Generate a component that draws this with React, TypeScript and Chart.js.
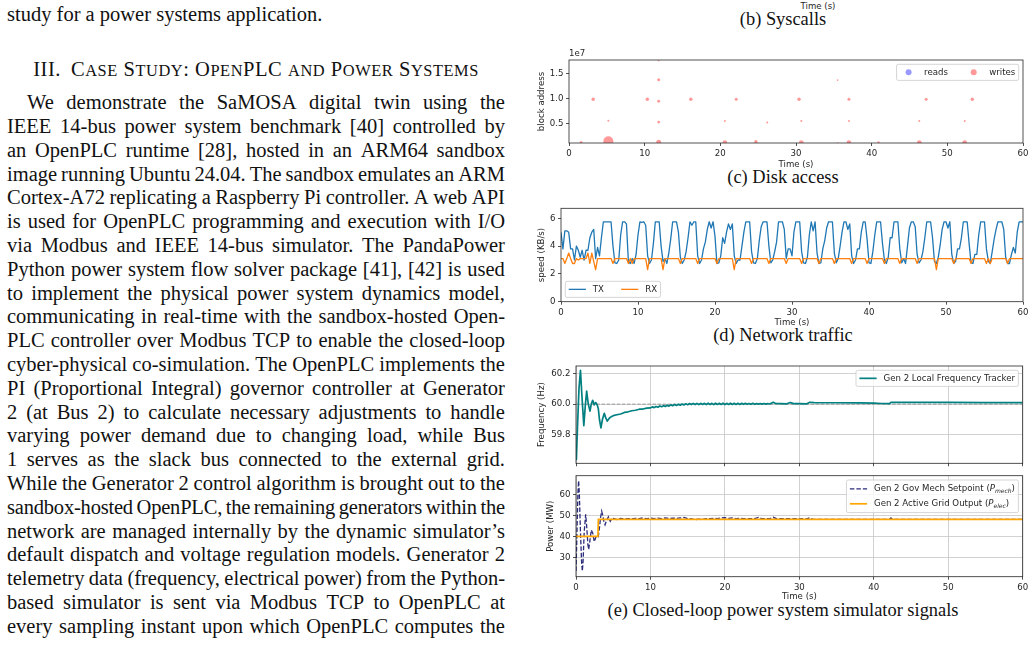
import React, { useEffect, useLayoutEffect, useRef } from "react";
import { Chart, registerables } from "chart.js";

Chart.register(...registerables);

// ---------------------------------------------------------------- data

const timeTicks = [0, 10, 20, 30, 40, 50, 60];
const timeRange = [0, 60];

// (c) disk access: block address of each request, request size in KiB
const blockTicks = [0.5e7, 1.0e7, 1.5e7];
const blockRange = [0.12e7, 1.77e7];
const readTimes: number[] = [];
const readBlocks: number[] = [];
const readKiB: number[] = [];
const writeTimes = [
  3.2, 10.35, 11.85, 16.1, 22.1, 30.4, 37.0, 47.2, 53.3,
  5.2, 11.85, 20.6, 26.2, 30.7, 37.0, 46.3, 52.3,
  11.85, 35.5, 11.85,
  1.6, 5.2, 11.85, 20.6, 24.7, 30.7, 35.5, 37.0, 40.9, 46.3, 52.3,
];
const writeBlocks = [
  0.99e7, 0.99e7, 0.95e7, 0.99e7, 0.99e7, 0.99e7, 0.99e7, 0.99e7, 0.99e7,
  0.56e7, 0.535e7, 0.555e7, 0.53e7, 0.555e7, 0.555e7, 0.555e7, 0.555e7,
  1.375e7, 1.37e7, 1.76e7,
  0.13e7, 0.155e7, 0.135e7, 0.13e7, 0.145e7, 0.13e7, 0.12e7, 0.13e7, 0.13e7, 0.13e7, 0.13e7,
];
const writeKiB = [
  12, 12, 8, 12, 9, 12, 9, 9, 12,
  4, 8, 4, 4, 4, 4, 4, 4,
  9, 3, 3,
  9, 100, 25, 22, 12, 22, 3, 22, 6, 22, 22,
];

// (d) network traffic, one sample every netSamplePeriod seconds
const netSamplePeriod = 0.25;
const speedTicks = [0, 2, 4, 6];
const speedRange = [0, 6.72];
const txKBps = [
  5.0, 3.8, 5.1, 5.1, 5.0, 3.8, 3.8, 3.0, 4.0, 3.7, 3.2, 3.7, 3.0, 3.7, 3.7, 4.6, 5.0, 5.2, 3.1, 3.9,
  3.3, 4.6, 5.75, 5.75, 5.75, 5.75, 5.75, 4.0, 2.8, 2.75, 3.0, 4.8, 5.75, 5.75, 5.6, 2.9, 2.75, 3.1, 2.75, 3.4,
  4.8, 5.75, 5.7, 5.75, 5.5, 3.3, 2.75, 3.0, 4.2, 5.75, 5.75, 5.75, 4.0, 2.9, 3.1, 2.75, 3.5, 4.5, 5.75, 5.75,
  5.75, 5.0, 3.2, 2.75, 3.0, 3.6, 4.6, 5.75, 5.5, 5.75, 5.75, 3.3, 2.75, 3.0, 3.8, 4.3, 5.2, 5.75, 5.3, 5.75,
  4.7, 2.75, 2.8, 3.3, 4.6, 4.2, 5.0, 5.6, 5.2, 5.6, 3.3, 2.75, 3.0, 3.0, 4.0, 5.0, 5.75, 5.75, 5.75, 3.6,
  2.8, 2.75, 3.1, 4.4, 5.4, 5.75, 5.75, 5.75, 4.0, 2.8, 3.0, 3.6, 4.3, 5.75, 5.75, 5.75, 5.2, 3.1, 3.8, 3.8,
  3.3, 5.0, 5.75, 5.75, 5.75, 3.6, 2.8, 2.75, 3.2, 4.8, 5.75, 5.1, 5.75, 3.5, 2.75, 2.8, 3.8, 4.4, 5.3, 5.75,
  5.75, 5.75, 3.5, 2.8, 3.1, 4.0, 5.0, 5.75, 5.75, 5.2, 5.6, 3.3, 2.75, 3.0, 3.8, 3.8, 5.0, 5.75, 5.75, 4.5,
  2.8, 2.75, 3.6, 4.8, 5.75, 5.75, 5.75, 4.2, 3.0, 2.75, 3.2, 4.6, 4.6, 5.75, 5.75, 5.75, 3.8, 2.8, 3.1, 2.75,
  4.0, 5.3, 5.75, 5.75, 5.4, 3.4, 2.8, 3.0, 3.6, 4.6, 5.75, 5.75, 5.75, 4.6, 2.9, 2.75, 3.2, 4.1, 5.2, 5.75,
  5.75, 5.3, 5.75, 3.4, 2.75, 2.9, 3.8, 3.8, 4.6, 5.75, 5.75, 5.75, 4.2, 2.8, 2.75, 3.4, 3.4, 4.8, 5.75, 5.75,
  5.75, 3.8, 2.9, 2.75, 3.6, 4.5, 5.2, 5.75, 5.75, 5.75, 5.2, 3.2, 2.75, 2.75, 3.4, 3.9, 3.5, 5.0, 5.75, 5.75,
  5.75,
];
const rxKBps = [
  3.1, 3.1, 2.75, 3.1, 3.5, 3.1, 2.75, 2.75, 3.1, 3.0, 3.1, 3.1, 3.1, 3.1, 3.5, 2.75, 3.5, 2.9, 2.3, 3.1,
  3.1, 3.1, 3.1, 3.1, 3.1, 3.1, 3.1, 2.75, 3.1, 3.1, 3.1, 3.1, 3.1, 3.1, 3.1, 2.75, 3.1, 2.75, 3.1, 3.1,
  3.1, 3.1, 3.1, 3.1, 3.1, 2.3, 3.1, 3.1, 3.1, 3.1, 3.1, 3.1, 3.1, 2.3, 3.1, 3.1, 3.1, 3.1, 3.1, 3.1,
  3.1, 3.1, 2.75, 3.1, 3.1, 3.1, 3.1, 3.1, 3.1, 3.1, 3.1, 2.75, 3.1, 3.1, 3.1, 3.1, 3.1, 3.1, 3.1, 3.1,
  3.1, 2.75, 3.1, 3.1, 3.1, 3.1, 3.1, 3.1, 3.1, 3.1, 2.3, 3.1, 3.1, 3.1, 3.1, 3.1, 3.1, 3.1, 3.1, 2.75,
  3.1, 3.1, 3.1, 3.1, 3.1, 3.1, 3.1, 3.1, 2.75, 3.1, 3.1, 3.1, 3.1, 3.1, 3.1, 3.1, 3.1, 2.75, 3.1, 3.1,
  3.1, 3.1, 3.1, 3.1, 3.1, 2.75, 3.1, 3.1, 3.1, 3.1, 3.1, 3.1, 3.1, 3.1, 2.75, 3.1, 3.1, 3.1, 3.1, 3.1,
  3.1, 3.1, 2.75, 3.1, 3.1, 3.1, 3.1, 3.1, 3.1, 3.1, 3.1, 2.75, 3.1, 3.1, 3.1, 3.1, 3.1, 3.1, 3.1, 2.75,
  3.1, 3.1, 3.1, 3.1, 3.1, 3.1, 3.1, 3.1, 2.75, 3.1, 3.1, 3.1, 3.1, 3.1, 3.1, 3.1, 2.75, 3.1, 3.1, 3.1,
  3.1, 3.1, 3.1, 3.1, 3.1, 2.75, 3.1, 3.1, 3.1, 3.1, 3.1, 3.1, 3.1, 3.1, 3.1, 2.3, 3.1, 3.1, 3.1, 3.1,
  3.1, 3.1, 3.1, 3.1, 2.75, 3.1, 3.1, 3.1, 3.1, 3.1, 3.1, 3.1, 3.1, 2.75, 3.1, 3.1, 3.1, 3.1, 3.1, 3.1,
  3.1, 2.75, 3.1, 2.75, 3.1, 3.1, 3.1, 3.1, 3.1, 3.1, 3.1, 3.1, 2.75, 3.1, 3.1, 3.1, 3.1, 3.1, 3.1, 3.1,
  3.1,
];

// (e) generator 2 local frequency
const freqTicks = [59.8, 60.0, 60.2];
const freqRange = [59.615, 60.248];
const nominalHz = 60.0;
const freqTimes = [
  0.0, 0.05, 0.2, 0.4, 0.6, 0.8, 1.05, 1.25, 1.43, 1.65, 1.88, 2.05, 2.24, 2.45, 2.65, 2.85,
  3.0, 3.15, 3.35, 3.55, 3.8, 4.0, 4.2, 4.5, 4.8,
  5.0, 5.5, 6.0, 6.5, 7.0, 7.5, 8.0, 8.5, 9.0, 9.5,
  10.0, 10.25, 10.5, 10.75, 11.0, 11.25, 11.5, 11.75, 12.0, 12.25, 12.5, 12.75,
  13.0, 13.25, 13.5, 13.75, 14.0, 14.25, 14.5, 14.75, 15.0, 15.25, 15.5, 15.75,
  16.0, 16.25, 16.5, 16.75, 17.0, 17.25, 17.5, 17.75, 18.0, 18.25, 18.5, 18.75,
  19.0, 19.25, 19.5, 19.75, 20.0, 20.25, 20.5, 20.75, 21.0, 21.25, 21.5, 21.75,
  22.0, 22.25, 22.5, 22.75, 23.0, 23.25, 23.5, 23.75, 24.0, 24.25, 24.5, 24.75,
  25.0, 25.25, 25.5, 25.75, 26.0,
  26.5, 26.8, 27.5, 28.3, 28.8, 29.2, 30.0, 31.0, 31.4, 32.0, 35.0, 38.0, 40.0, 41.0,
  42.1, 42.3, 45.0, 50.0, 55.0, 60.0,
];
const freqHz = [
  59.66, 59.64, 59.85, 60.1, 60.22, 60.05, 59.86, 59.99, 60.085, 60.0, 59.955, 60.0, 60.025, 59.995, 60.01, 59.995,
  59.97, 59.9, 59.845, 59.9, 59.94, 59.91, 59.89, 59.91, 59.92,
  59.925, 59.931, 59.936, 59.946, 59.95, 59.957, 59.96, 59.967, 59.968, 59.974,
  59.975, 59.982, 59.977, 59.985, 59.98, 59.988, 59.983, 59.99, 59.985, 59.993, 59.987, 59.995,
  59.99, 59.997, 59.991, 59.999, 59.993, 60.001, 59.995, 60.002, 59.996, 60.004, 59.997, 60.005,
  59.997, 60.005, 59.997, 60.005, 59.998, 60.005, 59.997, 60.006, 59.998, 60.005, 59.997, 60.006,
  59.998, 60.005, 59.998, 60.006, 59.997, 60.005, 59.998, 60.006, 59.998, 60.005, 59.998, 60.005,
  59.998, 60.005, 59.999, 60.005, 59.999, 60.004, 59.999, 60.005, 59.999, 60.004, 60.0, 60.004,
  60.0, 60.004, 60.0, 60.004, 60.001,
  60.012, 60.004, 60.003, 60.002, 60.011, 60.003, 60.003, 60.002, 60.012, 60.01, 60.009, 60.008, 60.006, 60.004,
  60.003, 60.012, 60.011, 60.011, 60.01, 60.01,
];

// (e) generator 2 governor setpoint and electrical output
const powerTicks = [30, 40, 50, 60];
const powerRange = [20.8, 68.9];
const mechTimes = [
  0, 0.12, 0.25, 0.35, 0.45, 0.6, 0.75, 0.85, 0.95, 1.1,
  1.3, 1.45, 1.6, 1.7, 1.85, 2.05, 2.25, 2.45, 2.65, 2.85,
  3.0, 3.15, 3.3, 3.45, 3.6, 3.75, 3.9, 4.1, 4.35, 4.6,
  4.85, 5.0,
  5.5, 6.0, 6.5, 7.0, 7.5, 8.0, 8.5, 9.0, 9.5, 10.0,
  10.5, 11.0, 11.5, 12.0, 12.5, 13.0, 13.5, 14.0, 14.5, 15.0,
  15.5, 16.0, 16.5, 17.0, 17.5, 18.0, 18.5, 19.0, 19.5, 20.0,
  20.5, 21.0, 21.5, 22.0, 22.5, 23.0, 23.5, 24.0, 24.5, 25.0,
  25.5, 26.0, 26.5, 27.0, 27.5, 28.0, 28.5, 29.0, 29.5, 30.0,
  30.5, 31.0,
  31.4, 31.8, 35.0, 40.0, 42.1, 42.3, 42.5, 50.0, 60.0,
];
const mechMW = [
  23.5, 40, 60, 66.5, 60, 42, 28, 23.5, 28, 42,
  50.5, 44, 36, 33.8, 37.5, 43, 41.5, 37.5, 39.5, 40.5,
  40, 44, 49, 52, 50, 47, 45.5, 47.5, 49.3, 47.2,
  48.8, 48.6,
  48.0, 48.6, 48.2, 48.5, 48.3, 48.6, 48.4, 48.8, 48.4, 48.7,
  48.5, 48.7, 48.5, 48.8, 48.5, 48.7, 48.6, 48.8, 49.0, 48.5,
  48.3, 48.0, 48.2, 48.1, 48.5, 48.4, 48.6, 48.5, 48.8, 48.9,
  48.6, 48.8, 48.5, 48.6, 48.4, 48.5, 48.4, 48.5, 49.0, 48.4,
  48.5, 48.4, 49.1, 48.4, 48.5, 48.4, 48.5, 48.3, 48.5, 48.3,
  48.4, 48.3,
  48.9, 48.1, 48.1, 48.1, 48.1, 48.8, 48.1, 48.1, 48.1,
];
const elecTimes = [0, 2.95, 3.0, 60];
const elecMW = [40, 40, 48.1, 48.1];

// ---------------------------------------------------------------- page text

const prevParagraphTail = "study for a power systems application.";
const sectionNumber = "III.";
const sectionTitle = "Case Study: OpenPLC and Power Systems";
const paragraphLines = [
  "We demonstrate the SaMOSA digital twin using the",
  "IEEE 14-bus power system benchmark [40] controlled by",
  "an OpenPLC runtime [28], hosted in an ARM64 sandbox",
  "image running Ubuntu 24.04. The sandbox emulates an ARM",
  "Cortex-A72 replicating a Raspberry Pi controller. A web API",
  "is used for OpenPLC programming and execution with I/O",
  "via Modbus and IEEE 14-bus simulator. The PandaPower",
  "Python power system flow solver package [41], [42] is used",
  "to implement the physical power system dynamics model,",
  "communicating in real-time with the sandbox-hosted Open-",
  "PLC controller over Modbus TCP to enable the closed-loop",
  "cyber-physical co-simulation. The OpenPLC implements the",
  "PI (Proportional Integral) governor controller at Generator",
  "2 (at Bus 2) to calculate necessary adjustments to handle",
  "varying power demand due to changing load, while Bus",
  "1 serves as the slack bus connected to the external grid.",
  "While the Generator 2 control algorithm is brought out to the",
  "sandbox-hosted OpenPLC, the remaining generators within the",
  "network are managed internally by the dynamic simulator\u2019s",
  "default dispatch and voltage regulation models. Generator 2",
  "telemetry data (frequency, electrical power) from the Python-",
  "based simulator is sent via Modbus TCP to OpenPLC at",
  "every sampling instant upon which OpenPLC computes the",
];

// ---------------------------------------------------------------- styling helpers

const SANS = "'DejaVu Sans', Verdana, sans-serif";
const SERIF = "'Liberation Serif', 'Times New Roman', Times, serif";
const INK = "#262626";
const GRID = "#c6c6c6";
const FS = 8.6;
const TX_COLOR = "#1f77b4";
const RX_COLOR = "#ff7f0e";
const READ_FILL = "rgba(0, 0, 255, 0.4)";
const WRITE_FILL = "rgba(255, 0, 0, 0.4)";
const TEAL = "#008080";
const NAVY = "rgba(25, 25, 112, 0.92)";
const ORANGE = "#ffa500";

Chart.defaults.font.family = SANS;
Chart.defaults.font.size = FS;

type Frame = { x: number; y: number; w: number; h: number; plot: { l: number; t: number; r: number; b: number } };

const diskFrame: Frame = { x: 537, y: 40, w: 498, h: 130, plot: { l: 569, t: 60, r: 1023, b: 143 } };
const netFrame: Frame = { x: 537, y: 190, w: 498, h: 138, plot: { l: 561, t: 208.3, r: 1023, b: 301.7 } };
const freqFrame: Frame = { x: 537, y: 350, w: 498, h: 123, plot: { l: 576, t: 366, r: 1022.7, b: 463.3 } };
const powerFrame: Frame = { x: 546, y: 466, w: 489, h: 136, plot: { l: 576, t: 475.7, r: 1022.7, b: 576.7 } };

const pts = (xs: number[], ys: number[]) => xs.map((x, i) => ({ x, y: ys[i] }));
const sampleTimes = (n: number, dt: number) => Array.from({ length: n }, (_, i) => i * dt);
const kibToRadius = (kib: number) => 0.5 * Math.sqrt(kib);

type AxisSpec = {
  range: number[];
  ticks: number[];
  fmt: (v: number) => string;
  labels?: boolean;
  title?: string;
  grid?: boolean;
  size: number;
  horizontal: boolean;
};

function axis(s: AxisSpec): any {
  return {
    type: "linear",
    min: s.range[0],
    max: s.range[1],
    bounds: "data",
    afterBuildTicks: (sc: any) => {
      sc.ticks = s.ticks.map((value) => ({ value }));
    },
    afterFit: (sc: any) => {
      if (s.horizontal) sc.height = s.size;
      else sc.width = s.size;
    },
    ticks: {
      display: s.labels !== false,
      autoSkip: false,
      maxRotation: 0,
      minRotation: 0,
      padding: 2.5,
      color: INK,
      font: { family: SANS, size: FS },
      callback: (v: any) => s.fmt(Number(v)),
    },
    grid: {
      display: true,
      drawOnChartArea: !!s.grid,
      color: GRID,
      lineWidth: 0.8,
      drawTicks: true,
      tickLength: 3,
      tickColor: INK,
      tickWidth: 0.8,
    },
    border: { display: false },
    title: s.title
      ? { display: true, text: s.title, color: INK, font: { family: SANS, size: FS, lineHeight: 1.2 }, padding: 0 }
      : { display: false },
  };
}

function baseOptions(f: Frame, scales: any) {
  return {
    responsive: false,
    maintainAspectRatio: false,
    animation: false,
    devicePixelRatio: 1,
    events: [],
    layout: { padding: { left: 0, top: f.plot.t - f.y, right: f.x + f.w - f.plot.r, bottom: 0 } },
    plugins: { legend: { display: false }, tooltip: { enabled: false } },
    scales,
  };
}

// axes box drawn on all four sides
const framePlugin = {
  id: "axesFrame",
  afterDatasetsDraw(chart: any) {
    const { ctx, chartArea: a } = chart;
    ctx.save();
    ctx.strokeStyle = INK;
    ctx.lineWidth = 0.8;
    ctx.strokeRect(a.left, a.top, a.right - a.left, a.bottom - a.top);
    ctx.restore();
  },
};

function offsetLabelPlugin(text: string) {
  return {
    id: "offsetLabel",
    afterDraw(chart: any) {
      const { ctx, chartArea: a } = chart;
      ctx.save();
      ctx.font = `${FS}px ${SANS}`;
      ctx.fillStyle = INK;
      ctx.textAlign = "left";
      ctx.textBaseline = "middle";
      ctx.fillText(text, a.left, a.top - 6.5);
      ctx.restore();
    },
  };
}

type Seg = { text: string; italic?: boolean; sub?: boolean };
type LegendEntry = { handle: "line" | "dot"; color: string; lineWidth?: number; dash?: number[]; radius?: number; label: Seg[] };
type LegendSpec = { entries: LegendEntry[]; columns: number; corner: "upper right" | "lower left"; rowHeight: number };

function roundRectPath(ctx: CanvasRenderingContext2D, x: number, y: number, w: number, h: number, r: number) {
  ctx.beginPath();
  ctx.moveTo(x + r, y);
  ctx.arcTo(x + w, y, x + w, y + h, r);
  ctx.arcTo(x + w, y + h, x, y + h, r);
  ctx.arcTo(x, y + h, x, y, r);
  ctx.arcTo(x, y, x + w, y, r);
  ctx.closePath();
}

// boxed legend laid out like a matplotlib legend
function legendPlugin(spec: LegendSpec) {
  return {
    id: "boxLegend",
    afterDatasetsDraw(chart: any) {
      const ctx: CanvasRenderingContext2D = chart.ctx;
      const area = chart.chartArea;
      const pad = 0.4 * FS;
      const handleLen = 2 * FS;
      const handleGap = 0.8 * FS;
      const colGap = 2 * FS;
      const rowGap = 0.5 * FS;
      const inset = 0.5 * FS;
      const segFont = (s: Seg) => `${s.italic ? "italic " : ""}${s.sub ? FS * 0.7 : FS}px ${SANS}`;
      const labelWidth = (segs: Seg[]) =>
        segs.reduce((w, s) => {
          ctx.font = segFont(s);
          return w + ctx.measureText(s.text).width;
        }, 0);

      const n = spec.entries.length;
      const cols = spec.columns;
      const rows = Math.ceil(n / cols);
      const colOf = (i: number) => Math.floor(i / rows);
      const rowOf = (i: number) => i % rows;
      const colText = new Array(cols).fill(0);
      spec.entries.forEach((e, i) => {
        colText[colOf(i)] = Math.max(colText[colOf(i)], labelWidth(e.label));
      });
      const boxW = 2 * pad + colText.reduce((acc, w) => acc + handleLen + handleGap + w, 0) + (cols - 1) * colGap;
      const boxH = 2 * pad + rows * spec.rowHeight + (rows - 1) * rowGap;
      let x0: number;
      let y0: number;
      if (spec.corner === "upper right") {
        x0 = area.right - inset - boxW;
        y0 = area.top + inset;
      } else {
        x0 = area.left + inset;
        y0 = area.bottom - inset - boxH;
      }

      ctx.save();
      roundRectPath(ctx, x0, y0, boxW, boxH, 0.2 * FS);
      ctx.fillStyle = "rgba(255,255,255,0.8)";
      ctx.fill();
      ctx.strokeStyle = "#cccccc";
      ctx.lineWidth = 0.8;
      ctx.stroke();

      const colX: number[] = [];
      let cx = x0 + pad;
      for (let c = 0; c < cols; c++) {
        colX.push(cx);
        cx += handleLen + handleGap + colText[c] + colGap;
      }

      spec.entries.forEach((e, i) => {
        const hx = colX[colOf(i)];
        const cy = y0 + pad + rowOf(i) * (spec.rowHeight + rowGap) + spec.rowHeight / 2;
        if (e.handle === "line") {
          ctx.beginPath();
          ctx.setLineDash(e.dash || []);
          ctx.strokeStyle = e.color;
          ctx.lineWidth = e.lineWidth || 1.3;
          ctx.moveTo(hx, cy);
          ctx.lineTo(hx + handleLen, cy);
          ctx.stroke();
          ctx.setLineDash([]);
        } else {
          ctx.beginPath();
          ctx.fillStyle = e.color;
          ctx.arc(hx + handleLen / 2, cy, e.radius || 3, 0, Math.PI * 2);
          ctx.fill();
        }
        let tx = hx + handleLen + handleGap;
        ctx.fillStyle = INK;
        ctx.textAlign = "left";
        ctx.textBaseline = "middle";
        e.label.forEach((s) => {
          ctx.font = segFont(s);
          ctx.fillText(s.text, tx, s.sub ? cy + FS * 0.3 : cy);
          tx += ctx.measureText(s.text).width;
        });
      });
      ctx.restore();
    },
  };
}

const sizeOf = (f: Frame) => ({ yW: f.plot.l - f.x, xH: f.y + f.h - f.plot.b });
const fmtFixed = (d: number) => (v: number) => v.toFixed(d);

// ---------------------------------------------------------------- chart builders

function buildDisk() {
  const s = sizeOf(diskFrame);
  return {
    type: "scatter",
    data: {
      datasets: [
        {
          label: "reads",
          data: pts(readTimes, readBlocks),
          backgroundColor: READ_FILL,
          borderWidth: 0,
          pointRadius: (c: any) => kibToRadius(readKiB[c.dataIndex]),
          clip: 0,
        },
        {
          label: "writes",
          data: pts(writeTimes, writeBlocks),
          backgroundColor: WRITE_FILL,
          borderWidth: 0,
          pointRadius: (c: any) => kibToRadius(writeKiB[c.dataIndex]),
          clip: 0,
        },
      ],
    },
    options: baseOptions(diskFrame, {
      x: axis({ range: timeRange, ticks: timeTicks, fmt: fmtFixed(0), title: "Time (s)", size: s.xH, horizontal: true }),
      y: axis({ range: blockRange, ticks: blockTicks, fmt: (v) => (v / 1e7).toFixed(1), title: "block address", size: s.yW, horizontal: false }),
    }),
    plugins: [
      framePlugin,
      offsetLabelPlugin("1e7"),
      legendPlugin({
        columns: 2,
        corner: "upper right",
        rowHeight: 9.2,
        entries: [
          { handle: "dot", color: READ_FILL, radius: 3, label: [{ text: "reads" }] },
          { handle: "dot", color: WRITE_FILL, radius: 3, label: [{ text: "writes" }] },
        ],
      }),
    ],
  };
}

function buildNetwork() {
  const s = sizeOf(netFrame);
  const t = sampleTimes(txKBps.length, netSamplePeriod);
  const line = (label: string, ys: number[], color: string, order: number) => ({
    label,
    data: pts(t, ys),
    borderColor: color,
    borderWidth: 1.3,
    pointRadius: 0,
    tension: 0,
    fill: false,
    borderJoinStyle: "round",
    order,
    clip: 0,
  });
  return {
    type: "line",
    data: { datasets: [line("TX", txKBps, TX_COLOR, 1), line("RX", rxKBps, RX_COLOR, 0)] },
    options: baseOptions(netFrame, {
      x: axis({ range: timeRange, ticks: timeTicks, fmt: fmtFixed(0), title: "Time (s)", size: s.xH, horizontal: true }),
      y: axis({ range: speedRange, ticks: speedTicks, fmt: fmtFixed(0), title: "speed (KB/s)", size: s.yW, horizontal: false }),
    }),
    plugins: [
      framePlugin,
      legendPlugin({
        columns: 2,
        corner: "lower left",
        rowHeight: 9.2,
        entries: [
          { handle: "line", color: TX_COLOR, lineWidth: 1.3, label: [{ text: "TX" }] },
          { handle: "line", color: RX_COLOR, lineWidth: 1.3, label: [{ text: "RX" }] },
        ],
      }),
    ],
  };
}

function buildFrequency() {
  const s = sizeOf(freqFrame);
  return {
    type: "line",
    data: {
      datasets: [
        {
          label: "Gen 2 Local Frequency Tracker",
          data: pts(freqTimes, freqHz),
          borderColor: TEAL,
          borderWidth: 1.7,
          pointRadius: 0,
          tension: 0,
          fill: false,
          borderJoinStyle: "round",
          order: 0,
          clip: 0,
        },
        {
          label: "nominal",
          data: pts(timeRange, [nominalHz, nominalHz]),
          borderColor: "rgba(128,128,128,0.8)",
          borderWidth: 0.9,
          borderDash: [3.5, 1.6],
          pointRadius: 0,
          fill: false,
          order: 1,
          clip: 0,
        },
      ],
    },
    options: baseOptions(freqFrame, {
      x: axis({ range: timeRange, ticks: timeTicks, fmt: fmtFixed(0), labels: false, grid: true, size: s.xH, horizontal: true }),
      y: axis({ range: freqRange, ticks: freqTicks, fmt: fmtFixed(1), title: "Frequency (Hz)", grid: true, size: s.yW, horizontal: false }),
    }),
    plugins: [
      framePlugin,
      legendPlugin({
        columns: 1,
        corner: "upper right",
        rowHeight: 9.2,
        entries: [{ handle: "line", color: TEAL, lineWidth: 1.7, label: [{ text: "Gen 2 Local Frequency Tracker" }] }],
      }),
    ],
  };
}

function buildPower() {
  const s = sizeOf(powerFrame);
  return {
    type: "line",
    data: {
      datasets: [
        {
          label: "Gen 2 Gov Mech Setpoint",
          data: pts(mechTimes, mechMW),
          borderColor: NAVY,
          borderWidth: 1.3,
          borderDash: [4.5, 2],
          pointRadius: 0,
          tension: 0,
          fill: false,
          order: 1,
          clip: 0,
        },
        {
          label: "Gen 2 Active Grid Output",
          data: pts(elecTimes, elecMW),
          borderColor: ORANGE,
          borderWidth: 1.7,
          pointRadius: 0,
          tension: 0,
          fill: false,
          order: 0,
          clip: 0,
        },
      ],
    },
    options: baseOptions(powerFrame, {
      x: axis({ range: timeRange, ticks: timeTicks, fmt: fmtFixed(0), title: "Time (s)", grid: true, size: s.xH, horizontal: true }),
      y: axis({ range: powerRange, ticks: powerTicks, fmt: fmtFixed(0), title: "Power (MW)", grid: true, size: s.yW, horizontal: false }),
    }),
    plugins: [
      framePlugin,
      legendPlugin({
        columns: 1,
        corner: "upper right",
        rowHeight: 10.7,
        entries: [
          {
            handle: "line",
            color: NAVY,
            lineWidth: 1.3,
            dash: [4.5, 2],
            label: [{ text: "Gen 2 Gov Mech Setpoint (" }, { text: "P", italic: true }, { text: "mech", italic: true, sub: true }, { text: ")" }],
          },
          {
            handle: "line",
            color: ORANGE,
            lineWidth: 1.7,
            label: [{ text: "Gen 2 Active Grid Output (" }, { text: "P", italic: true }, { text: "elec", italic: true, sub: true }, { text: ")" }],
          },
        ],
      }),
    ],
  };
}

// ---------------------------------------------------------------- components

function ChartCanvas({ frame, build }: { frame: Frame; build: () => any }) {
  const ref = useRef<HTMLCanvasElement | null>(null);
  useEffect(() => {
    if (!ref.current) return;
    const chart = new Chart(ref.current, build());
    return () => chart.destroy();
  }, []);
  return (
    <canvas
      ref={ref}
      width={frame.w}
      height={frame.h}
      style={{ position: "absolute", left: frame.x, top: frame.y, width: frame.w, height: frame.h }}
    />
  );
}

const COL_LEFT = 7;
const COL_WIDTH = 498;
const LINE_H = 23.8;
const BODY_SIZE = 20.5;
const FIRST_LINE_CENTER = 103;
const MIN_WORD_GAP = 3.6;

// justified line: words spread edge to edge; letters tightened when the words barely fit
function JustifiedLine({ text, top, indent }: { text: string; top: number; indent: number }) {
  const ref = useRef<HTMLDivElement | null>(null);
  useLayoutEffect(() => {
    const el = ref.current;
    if (!el) return;
    const spans = Array.from(el.children) as HTMLElement[];
    const wordsW = spans.reduce((w, s) => w + s.getBoundingClientRect().width, 0);
    const avail = COL_WIDTH - indent;
    const need = wordsW + (spans.length - 1) * MIN_WORD_GAP;
    if (need > avail) {
      const chars = text.replace(/ /g, "").length;
      el.style.letterSpacing = `${-(need - avail) / chars}px`;
    }
  }, [text, indent]);
  return (
    <div
      ref={ref}
      style={{
        position: "absolute",
        left: COL_LEFT,
        top,
        width: COL_WIDTH,
        height: LINE_H,
        lineHeight: `${LINE_H}px`,
        fontFamily: SERIF,
        fontSize: BODY_SIZE,
        whiteSpace: "nowrap",
        color: "#111",
        display: "flex",
        justifyContent: "space-between",
        paddingLeft: indent,
        boxSizing: "border-box",
      }}
    >
      {text.split(" ").map((w, j) => (
        <span key={j}>{w}</span>
      ))}
    </div>
  );
}

function SmallCaps({ text, scale }: { text: string; scale: number }) {
  const runs = text.split(/([a-z]+)/).filter((r) => r.length > 0);
  return (
    <>
      {runs.map((r, i) =>
        /^[a-z]+$/.test(r) ? (
          <span key={i} style={{ fontSize: `${scale}em` }}>
            {r.toUpperCase()}
          </span>
        ) : (
          <span key={i}>{r}</span>
        )
      )}
    </>
  );
}

function TextColumn() {
  const plain: React.CSSProperties = {
    position: "absolute",
    left: COL_LEFT,
    width: COL_WIDTH,
    height: LINE_H,
    lineHeight: `${LINE_H}px`,
    fontFamily: SERIF,
    fontSize: BODY_SIZE,
    whiteSpace: "nowrap",
    color: "#111",
  };
  return (
    <>
      <div style={{ ...plain, top: 15 - LINE_H / 2 }}>{prevParagraphTail}</div>
      <div style={{ ...plain, top: 70 - LINE_H / 2, textAlign: "center", letterSpacing: "0.55px" }}>
        <span style={{ marginRight: 10 }}>{sectionNumber}</span>
        <SmallCaps text={sectionTitle} scale={0.8} />
      </div>
      {paragraphLines.map((line, i) => (
        <JustifiedLine key={i} text={line} top={FIRST_LINE_CENTER + i * LINE_H - LINE_H / 2} indent={i === 0 ? 20 : 0} />
      ))}
    </>
  );
}

const captions = [
  { text: "(b) Syscalls", x: 783, y: 18.5 },
  { text: "(c) Disk access", x: 783, y: 176.7 },
  { text: "(d) Network traffic", x: 783, y: 335 },
  { text: "(e) Closed-loop power system simulator signals", x: 783, y: 610 },
];

export default function App() {
  return (
    <div
      style={{
        position: "fixed",
        left: 0,
        top: 0,
        width: 1035,
        height: 649,
        background: "#fff",
        overflow: "hidden",
      }}
    >
      <TextColumn />
      <div
        style={{
          position: "absolute",
          left: 818,
          top: 6,
          transform: "translate(-50%, -50%)",
          fontFamily: SANS,
          fontSize: FS,
          color: INK,
          whiteSpace: "nowrap",
        }}
      >
        Time (s)
      </div>
      {captions.map((c) => (
        <div
          key={c.text}
          style={{
            position: "absolute",
            left: c.x,
            top: c.y,
            transform: "translate(-50%, -50%)",
            fontFamily: SERIF,
            fontSize: 18.4,
            lineHeight: "22px",
            color: "#111",
            whiteSpace: "nowrap",
          }}
        >
          {c.text}
        </div>
      ))}
      <ChartCanvas frame={diskFrame} build={buildDisk} />
      <ChartCanvas frame={netFrame} build={buildNetwork} />
      <ChartCanvas frame={freqFrame} build={buildFrequency} />
      <ChartCanvas frame={powerFrame} build={buildPower} />
    </div>
  );
}
